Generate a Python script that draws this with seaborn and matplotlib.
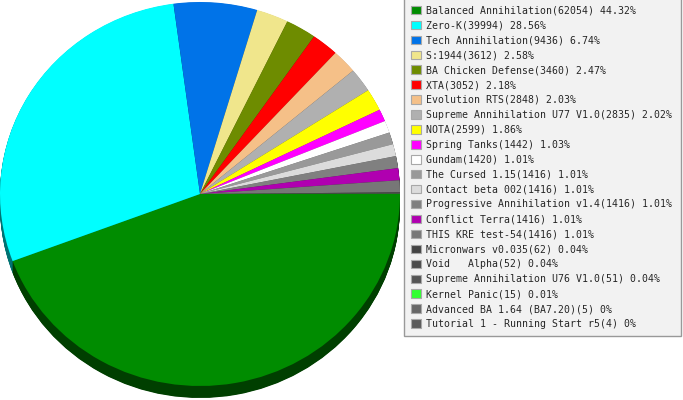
import matplotlib
matplotlib.use("Agg")
import matplotlib.pyplot as plt
from matplotlib.patches import Patch
import matplotlib.colors as mcolors
import seaborn as sns

sns.set_style("white")
plt.rcParams['font.family'] = ['DejaVu Sans Mono', 'DejaVu Sans']

games = ["Balanced Annihilation", "Zero-K", "Tech Annihilation", "S:1944",
         "BA Chicken Defense", "XTA", "Evolution RTS", "Supreme Annihilation U77 V1.0",
         "NOTA", "Spring Tanks", "Gundam", "The Cursed 1.15", "Contact beta 002",
         "Progressive Annihilation v1.4", "Conflict Terra", "THIS KRE test-54",
         "Micronwars v0.035", "Void   Alpha", "Supreme Annihilation U76 V1.0",
         "Kernel Panic", "Advanced BA 1.64 (BA7.20)", "Tutorial 1 - Running Start r5"]
counts = [62054, 39994, 9436, 3612, 3460, 3052, 2848, 2835, 2599, 1442, 1420,
          1416, 1416, 1416, 1416, 1416, 62, 52, 51, 15, 5, 4]
percents = ["44.32%", "28.56%", "6.74%", "2.58%", "2.47%", "2.18%", "2.03%", "2.02%",
            "1.86%", "1.03%", "1.01%", "1.01%", "1.01%", "1.01%", "1.01%", "1.01%",
            "0.04%", "0.04%", "0.04%", "0.01%", "0%", "0%"]
colors = ["#008c00", "#00ffff", "#0073e8", "#f0e68c", "#6e8c00", "#ff0000",
          "#f5c088", "#b0b0b0", "#ffff00", "#ff00ff", "#ffffff", "#999999",
          "#dcdcdc", "#808080", "#b000b0", "#777777", "#444444", "#4a4a4a",
          "#555555", "#33ff33", "#666666", "#5a5a5a"]

W, H = 683, 400
fig = plt.figure(figsize=(W / 100, H / 100), dpi=100)

# pie area in pixels: x 0..400, face ellipse radii 200 x 192, center 194 px from top
ax = fig.add_axes([0, 0, 400 / W, 1])
ry = 192.0
cy = H - 194.0

dark = [tuple(c * 0.45 for c in mcolors.to_rgb(col)) for col in colors]
depth = 12 / ry
steps = 24
for i in range(steps, 0, -1):
    off = depth * i / steps
    ax.pie(counts, colors=dark, startangle=0, counterclock=False, radius=1,
           center=(0, -off), wedgeprops=dict(linewidth=0), frame=True)
ax.pie(counts, colors=colors, startangle=0, counterclock=False, radius=1,
       center=(0, 0), wedgeprops=dict(linewidth=0), frame=True)
ax.set_aspect('auto')
ax.set_xlim(-1, 1)
ax.set_ylim(-cy / ry, (H - cy) / ry)
ax.axis('off')

labels = [f"{g}({c}) {p}" for g, c, p in zip(games, counts, percents)]
handles = [Patch(facecolor=col, edgecolor="#a8a8a8", linewidth=0.8) for col in colors]
leg = fig.legend(handles, labels, loc='upper left',
                 bbox_to_anchor=(404 / W, 1 - 2 / H, 277 / W, 0.01),
                 mode='expand', borderaxespad=0, fontsize=7.1, frameon=True,
                 fancybox=False, handlelength=0.95, handleheight=0.95,
                 handletextpad=0.5, labelspacing=0.5, borderpad=0.75)
frame = leg.get_frame()
frame.set_facecolor("#f2f2f2")
frame.set_edgecolor("#999999")
frame.set_linewidth(1.0)
frame.set_alpha(1)

fig.savefig("out.png", dpi=100)
